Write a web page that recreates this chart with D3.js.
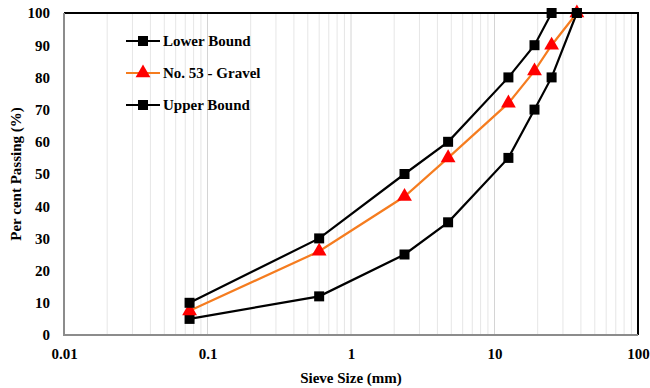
<!DOCTYPE html>
<html>
<head>
<meta charset="utf-8">
<script src="https://cdn.jsdelivr.net/npm/d3@7"></script>
<style>
  body { margin: 0; background: #fff; }
  text { font-family: "Liberation Serif", "Times New Roman", serif; font-weight: bold; }
</style>
</head>
<body>
<div id="chart"></div>
<script>
const sieves = [0.075, 0.6, 2.36, 4.75, 12.5, 19, 25, 37.5];
const lowerBound = [5, 12, 25, 35, 55, 70, 80, 100];
const gravel = [7.5, 26, 43, 55, 72, 82, 90, 100];
const upperBound = [10, 30, 50, 60, 80, 90, 100, 100];
const xTicks = [0.01, 0.1, 1, 10, 100];
const yTicks = [0, 10, 20, 30, 40, 50, 60, 70, 80, 90, 100];
const seriesNames = ['Lower Bound', 'No. 53 - Gravel', 'Upper Bound'];

const width = 650;
const height = 388;
const margin = { top: 13, right: 12, bottom: 53, left: 64 };

const svg = d3.select('#chart')
    .append('svg')
    .attr('width', width)
    .attr('height', height);

const x = d3.scaleLog()
    .domain([0.01, 100])
    .range([margin.left, width - margin.right]);

const y = d3.scaleLinear()
    .domain([0, 100])
    .range([height - margin.bottom, margin.top]);

// GRID (minor + major log lines)
const gridVals = [];
for (let p = -2; p < 2; p++) {
    for (let m = 1; m < 10; m++) {
        gridVals.push(m * Math.pow(10, p));
    }
}
svg.append('g')
    .selectAll('line')
    .data(gridVals.filter(v => v > 0.01))
    .join('line')
    .attr('x1', d => x(d))
    .attr('x2', d => x(d))
    .attr('y1', y(0))
    .attr('y2', y(100))
    .attr('stroke', d => xTicks.includes(d) ? '#d4d4d4' : '#e6e6e6')
    .attr('stroke-width', 1);

// FRAME
svg.append('path')
    .attr('d', `M${x(0.01)} ${y(100)} H${x(100)} V${y(0)}`)
    .attr('fill', 'none')
    .attr('stroke', '#000')
    .attr('stroke-width', 2);

svg.append('path')
    .attr('d', `M${x(0.01)} ${y(100)} V${y(0)} H${x(100)}`)
    .attr('fill', 'none')
    .attr('stroke', '#8c8c8c')
    .attr('stroke-width', 2);

// AXES LABELS
const xAxis = d3.axisBottom(x)
    .tickValues(xTicks)
    .tickSize(0)
    .tickPadding(13)
    .tickFormat(d => String(d));

svg.append('g')
    .attr('transform', `translate(0 ${y(0)})`)
    .call(xAxis)
    .call(g => g.select('.domain').remove())
    .selectAll('text')
    .attr('font-size', 15)
    .attr('fill', '#000');

const yAxis = d3.axisLeft(y)
    .tickValues(yTicks)
    .tickSize(0)
    .tickPadding(14);

svg.append('g')
    .attr('transform', `translate(${x(0.01)} 0)`)
    .call(yAxis)
    .call(g => g.select('.domain').remove())
    .selectAll('text')
    .attr('font-size', 15)
    .attr('fill', '#000');

svg.append('text')
    .attr('x', 351)
    .attr('y', 383)
    .attr('text-anchor', 'middle')
    .attr('font-size', 15)
    .text('Sieve Size (mm)');

svg.append('text')
    .attr('transform', `translate(21 ${y(50)}) rotate(-90)`)
    .attr('text-anchor', 'middle')
    .attr('font-size', 15)
    .text('Per cent Passing (%)');

// SERIES
const line = d3.line()
    .x(d => x(d[0]))
    .y(d => y(d[1]));

const series = [
    { name: seriesNames[0], values: lowerBound, color: '#000', marker: 'square', markerColor: '#000' },
    { name: seriesNames[1], values: gravel, color: '#f57c1f', marker: 'triangle', markerColor: '#ff0000' },
    { name: seriesNames[2], values: upperBound, color: '#000', marker: 'square', markerColor: '#000' }
];

const squareSym = d3.symbol().type(d3.symbolSquare).size(100);
const triSym = d3.symbol().type(d3.symbolTriangle).size(95);

series.forEach(s => {
    const pts = sieves.map((v, i) => [v, s.values[i]]);
    const g = svg.append('g');
    g.append('path')
        .datum(pts)
        .attr('d', line)
        .attr('fill', 'none')
        .attr('stroke', s.color)
        .attr('stroke-width', 2.2);
    g.selectAll('path.mk')
        .data(pts)
        .join('path')
        .attr('class', 'mk')
        .attr('transform', d => `translate(${x(d[0])} ${y(d[1])})`)
        .attr('d', s.marker === 'square' ? squareSym() : triSym())
        .attr('fill', s.markerColor);
});

// LEGEND
const legend = svg.append('g');
series.forEach((s, i) => {
    const ly = 41 + i * 32;
    legend.append('line')
        .attr('x1', 126).attr('x2', 160)
        .attr('y1', ly).attr('y2', ly)
        .attr('stroke', s.color)
        .attr('stroke-width', 2.2);
    legend.append('path')
        .attr('transform', `translate(143 ${ly})`)
        .attr('d', s.marker === 'square' ? squareSym() : triSym())
        .attr('fill', s.markerColor);
    legend.append('text')
        .attr('x', 163)
        .attr('y', ly)
        .attr('dy', '0.35em')
        .attr('font-size', 15)
        .text(s.name);
});
</script>
</body>
</html>
